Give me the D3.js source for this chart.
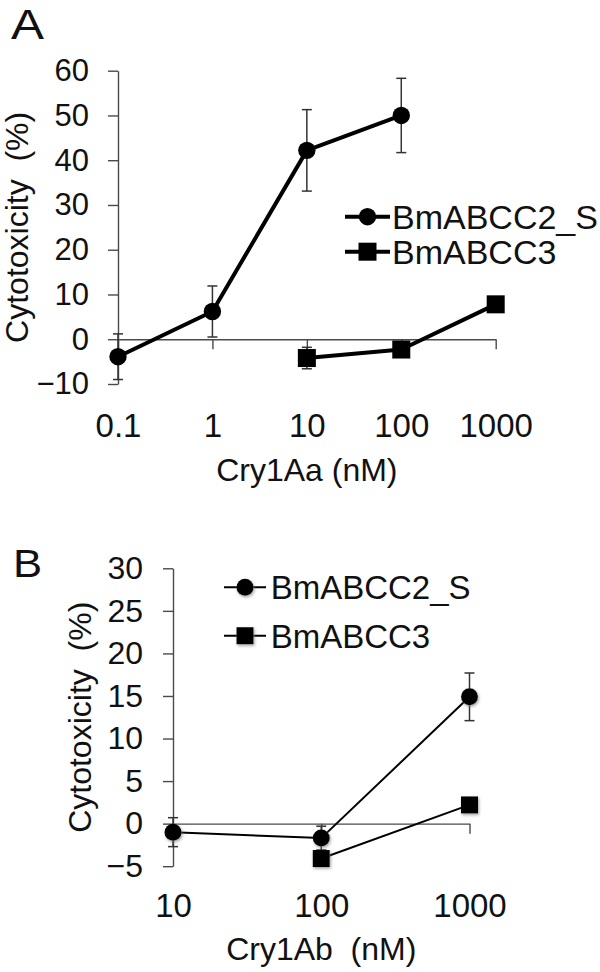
<!DOCTYPE html>
<html>
<head>
<meta charset="utf-8">
<script src="https://cdn.jsdelivr.net/npm/d3@7"></script>
<style>
  html, body { margin: 0; padding: 0; background: #fff; }
  svg { display: block; font-family: "Liberation Sans", Arial, sans-serif; }
  .axis path, .axis line { stroke: #4a4a4a; stroke-width: 1.4; }
  .axis text { fill: #111; }
</style>
</head>
<body>
<svg id="chart" width="600" height="972"></svg>
<script>
// Panel A — Cry1Aa dose response
const dosesA = [0.1, 1, 10, 100, 1000];
const yTicksA = [-10, 0, 10, 20, 30, 40, 50, 60];
const abcc2DoseA = [0.1, 1, 10, 100];
const abcc2ValA = [-3.9, 6.2, 42.2, 50.0];
const abcc2ErrA = [5.1, 5.7, 9.1, 8.3];
const abcc3DoseA = [10, 100, 1000];
const abcc3ValA = [-4.2, -2.3, 7.8];
const abcc3ErrA = [2.4, 0.8, 0.8];

// Panel B — Cry1Ab dose response
const dosesB = [10, 100, 1000];
const yTicksB = [-5, 0, 5, 10, 15, 20, 25, 30];
const abcc2DoseB = [10, 100, 1000];
const abcc2ValB = [-1.0, -1.7, 14.9];
const abcc2ErrB = [1.7, 1.4, 2.8];
const abcc3DoseB = [100, 1000];
const abcc3ValB = [-4.1, 2.2];
const abcc3ErrB = [0.7, 0.7];

const seriesNames = ["BmABCC2_S", "BmABCC3"];

const svg = d3.select("#chart");

svg.append("defs").append("filter")
  .attr("id", "soft")
  .attr("x", "-50%").attr("y", "-50%").attr("width", "200%").attr("height", "200%")
  .append("feDropShadow")
  .attr("dx", 1).attr("dy", 1.5).attr("stdDeviation", 1.6)
  .attr("flood-color", "#777").attr("flood-opacity", 0.7);

function zip(doses, vals, errs) {
  return doses.map((d, i) => ({ dose: d, v: vals[i], e: errs[i] }));
}

function panel(cfg) {
  const g = svg.append("g");
  const x = d3.scaleLog().domain(cfg.xDomain).range(cfg.xRange);
  const y = d3.scaleLinear().domain(cfg.yDomain).range(cfg.yRange);

  // y axis
  const ya = g.append("g")
    .attr("class", "axis")
    .attr("transform", `translate(${cfg.xRange[0]},0)`)
    .call(d3.axisLeft(y).tickValues(cfg.yTicks).tickSize(10).tickSizeOuter(0)
      .tickPadding(cfg.yPad).tickFormat(d3.format("d")));
  ya.selectAll("text").style("font-size", cfg.yFont + "px");

  // x axis line at zero, ticks downward
  g.append("g")
    .attr("class", "axis")
    .attr("transform", `translate(0,${y(0)})`)
    .call(d3.axisBottom(x).tickValues(cfg.doses).tickSize(10).tickSizeOuter(0).tickFormat(""));

  // x tick labels
  const xl = g.append("g")
    .attr("class", "axis")
    .attr("transform", `translate(0,${cfg.xLabelBase - 0.71 * 33})`)
    .call(d3.axisBottom(x).tickValues(cfg.doses).tickSize(0).tickPadding(0)
      .tickFormat((d) => String(d)));
  xl.select(".domain").remove();
  xl.selectAll("text").attr("y", 0).style("font-size", "33px");

  // axis titles
  g.append("text")
    .attr("transform", `translate(${cfg.yTitleX},${(cfg.yRange[0] + cfg.yRange[1]) / 2}) rotate(-90)`)
    .attr("text-anchor", "middle")
    .style("font-size", "32px").attr("fill", "#111")
    .text("Cytotoxicity\u00a0\u00a0(%)");
  g.append("text")
    .attr("x", (cfg.xRange[0] + cfg.xRange[1]) / 2)
    .attr("y", cfg.xTitleBase)
    .attr("text-anchor", "middle")
    .style("font-size", "32px").attr("fill", "#111")
    .text(cfg.xTitle);

  // panel letter
  g.append("text")
    .attr("transform", `translate(${cfg.letterPos[0]},${cfg.letterPos[1]}) scale(1.15,1)`)
    .style("font-size", cfg.letterSize + "px").attr("fill", "#111")
    .text(cfg.letter);

  const series = [
    { data: cfg.s1, shape: "circle" },
    { data: cfg.s2, shape: "square" },
  ];

  // error bars
  series.forEach((s) => {
    const eb = g.append("g").attr("stroke", "#333").attr("stroke-width", 1.5);
    s.data.forEach((d) => {
      const cx = x(d.dose);
      eb.append("line").attr("x1", cx).attr("x2", cx).attr("y1", y(d.v - d.e)).attr("y2", y(d.v + d.e));
      [d.v - d.e, d.v + d.e].forEach((val) => {
        eb.append("line").attr("x1", cx - 5).attr("x2", cx + 5).attr("y1", y(val)).attr("y2", y(val));
      });
    });
  });

  const line = d3.line().x((d) => x(d.dose)).y((d) => y(d.v));
  series.forEach((s) => {
    g.append("path").datum(s.data)
      .attr("fill", "none").attr("stroke", "#000")
      .attr("stroke-width", cfg.lineW).attr("stroke-linejoin", "round")
      .attr("d", line);
  });

  function marker(sel, shape, cx, cy) {
    if (shape === "circle") {
      sel.append("circle").attr("cx", cx).attr("cy", cy).attr("r", cfg.r).attr("fill", "#000")
        .attr("filter", cfg.shadow ? "url(#soft)" : null);
    } else {
      sel.append("rect").attr("x", cx - cfg.sq / 2).attr("y", cy - cfg.sq / 2)
        .attr("width", cfg.sq).attr("height", cfg.sq).attr("fill", "#000")
        .attr("filter", cfg.shadow ? "url(#soft)" : null);
    }
  }

  series.forEach((s) => {
    s.data.forEach((d) => marker(g, s.shape, x(d.dose), y(d.v)));
  });

  // legend
  const lg = cfg.legend;
  seriesNames.forEach((name, i) => {
    const ly = lg.rows[i];
    g.append("line").attr("x1", lg.x0).attr("x2", lg.x1).attr("y1", ly).attr("y2", ly)
      .attr("stroke", "#000").attr("stroke-width", cfg.lineW);
    marker(g, series[i].shape, (lg.x0 + lg.x1) / 2, ly);
    g.append("text").attr("x", lg.tx).attr("y", ly + 0.36 * lg.font)
      .style("font-size", lg.font + "px").attr("fill", "#111").text(name);
  });
}

panel({
  doses: dosesA, yTicks: yTicksA,
  xDomain: [0.1, 1000], xRange: [118, 495.7],
  yDomain: [-10, 60], yRange: [384, 70.7],
  yPad: 19, yFont: 31, xLabelBase: 436.7,
  yTitleX: 28, xTitleBase: 481, xTitle: "Cry1Aa (nM)",
  letter: "A", letterPos: [11, 39], letterSize: 43,
  s1: zip(abcc2DoseA, abcc2ValA, abcc2ErrA),
  s2: zip(abcc3DoseA, abcc3ValA, abcc3ErrA),
  lineW: 4, r: 8.7, sq: 18, shadow: false,
  legend: { x0: 345, x1: 390, tx: 392, rows: [216.7, 251.7], font: 34 },
});

panel({
  doses: dosesB, yTicks: yTicksB,
  xDomain: [10, 1000], xRange: [173, 469.5],
  yDomain: [-5, 30], yRange: [866.2, 568.3],
  yPad: 20, yFont: 32, xLabelBase: 917.3,
  yTitleX: 91, xTitleBase: 960, xTitle: "Cry1Ab\u00a0\u00a0(nM)",
  letter: "B", letterPos: [13, 576.5], letterSize: 38,
  s1: zip(abcc2DoseB, abcc2ValB, abcc2ErrB),
  s2: zip(abcc3DoseB, abcc3ValB, abcc3ErrB),
  lineW: 2, r: 8.5, sq: 17, shadow: true,
  legend: { x0: 224, x1: 266, tx: 270.7, rows: [587.3, 635.7], font: 33 },
});
</script>
</body>
</html>
